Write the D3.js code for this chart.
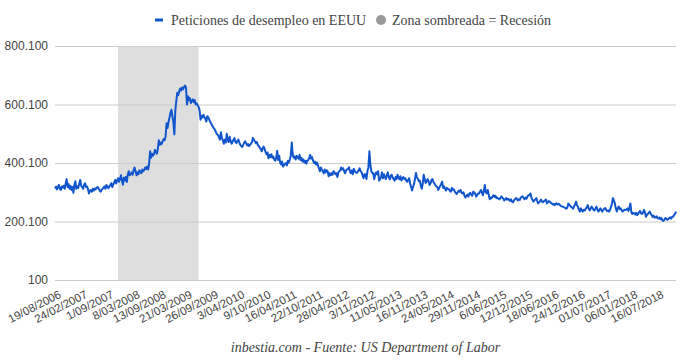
<!DOCTYPE html>
<html>
<head>
<meta charset="utf-8">
<script src="https://cdn.jsdelivr.net/npm/d3@7"></script>
<style>
body { margin: 0; background: #ffffff; }
</style>
</head>
<body>
<div id="plot"></div>
<script>
// peticiones semanales (miles), primera semana 19/08/2006
var claims2006 = [313, 319, 310, 318, 325, 312, 308, 320, 316, 322, 312, 330, 345, 318, 328, 312, 322, 308, 318, 298];
var claims2007 = [326, 338, 312, 320, 315, 330, 342, 322, 318, 312, 326, 331, 318, 320, 310, 296, 305,
    308, 302, 312, 306, 313, 310, 316, 318, 312, 306, 302, 308, 312, 316, 320, 312, 325,
    318, 314, 320, 324, 331, 318, 326, 334, 342, 330, 340, 348, 336, 345, 358, 340, 326, 350];
var claims2008 = [340, 352, 335, 360, 372, 358, 362, 368, 360, 375, 385, 372, 358, 368, 362, 375, 370,
    365, 378, 372, 376, 385, 380, 388, 378, 398, 440, 418, 432, 425, 430, 445, 438, 432, 448,
    478, 462, 470, 465, 475, 482, 478, 492, 536, 520, 540, 555, 572, 582, 560, 540, 498];
var claims2009 = [580, 612, 640, 632, 645, 655, 648, 658, 652, 660, 665, 658, 600, 628, 615, 622, 605,
    612, 618, 608, 615, 600, 604, 598, 592, 580, 548, 562, 555, 565, 558, 550, 542, 560, 556,
    548, 540, 535, 528, 522, 518, 512, 505, 498, 496, 488, 480, 505, 485, 478, 466, 480];
var claims2010 = [470, 500, 478, 472, 490, 475, 466, 472, 480, 485, 472, 468, 476, 480, 470, 462, 458,
    455, 462, 470, 474, 468, 460, 465, 458, 462, 466, 472, 486, 480, 474, 468, 472, 462, 458,
    452, 448, 440, 450, 456, 448, 438, 430, 436, 416, 428, 420, 430, 418, 422, 412, 408];
var claims2011 = [418, 442, 410, 425, 402, 395, 405, 388, 392, 398, 400, 392, 408, 402, 412, 425, 470, 430,
    418, 422, 412, 425, 420, 415, 428, 410, 418, 405, 412, 402, 408, 398, 408, 410, 418,
    428, 415, 420, 408, 400, 405, 395, 402, 392, 382, 372, 385, 378, 372, 365, 378, 368, 375];
var claims2012 = [372, 355, 365, 358, 365, 360, 372, 368, 362, 365, 352, 368, 372, 375, 385, 378, 382,
    372, 365, 375, 378, 380, 385, 372, 365, 375, 362, 380, 372, 368, 366, 370, 375, 382,
    372, 368, 358, 348, 362, 362, 345, 372, 385, 440, 395, 372, 366, 365, 345, 360, 368, 362];
var claims2013 = [372, 340, 345, 352, 368, 348, 362, 352, 345, 358, 368, 352, 344, 356, 360, 350, 345,
    340, 352, 345, 360, 350, 345, 355, 340, 348, 352, 345, 348, 340, 336, 342, 348, 330, 318,
    306, 318, 328, 345, 366, 352, 345, 338, 340, 322, 312, 330, 360, 345, 332, 338, 345];
var claims2014 = [338, 325, 330, 342, 345, 335, 330, 325, 320, 318, 308, 315, 322, 328, 336, 315, 320,
    312, 306, 315, 312, 310, 305, 302, 315, 308, 310, 302, 298, 294, 300, 305, 302, 308, 298,
    296, 300, 288, 282, 288, 292, 285, 295, 298, 292, 288, 302, 300, 295, 285, 290, 296];
var claims2015 = [296, 302, 308, 298, 290, 305, 325, 300, 296, 308, 292, 276, 282, 280, 286, 290, 284,
    288, 280, 282, 278, 276, 280, 286, 282, 278, 272, 276, 280, 275, 278, 274, 270, 276, 268,
    266, 272, 276, 280, 278, 272, 276, 274, 282, 284, 286, 280, 276, 282, 278, 286, 290];
var claims2016 = [290, 296, 282, 275, 268, 272, 276, 280, 270, 262, 266, 270, 275, 268, 266, 270, 272, 275,
    262, 266, 270, 268, 264, 262, 258, 260, 256, 260, 262, 258, 260, 258, 254, 252, 251,
    250, 248, 246, 244, 248, 262, 258, 253, 250, 248, 244, 252, 258, 268, 256, 250, 240, 234];
var claims2017 = [245, 238, 234, 240, 238, 244, 248, 256, 246, 238, 244, 251, 246, 240, 238, 244, 251,
    242, 234, 238, 245, 240, 234, 240, 244, 246, 240, 236, 238, 234, 240, 250, 262, 280,
    272, 262, 245, 234, 246, 251, 242, 245, 238, 234, 238, 240, 239, 242, 245, 236, 248, 262];
var claims2018 = [232, 226, 230, 228, 224, 230, 222, 226, 232, 236, 228, 226, 230, 240, 232, 216, 222,
    226, 230, 234, 226, 222, 216, 220, 214, 214, 218, 211, 210, 214, 208, 212, 204, 202,
    206, 212, 210, 206, 208, 212, 214, 210, 216, 216, 222, 226, 234];

var xLabels = ['19/08/2006', '24/02/2007', '1/09/2007', '8/03/2008', '13/09/2008', '21/03/2009',
    '26/09/2009', '3/04/2010', '9/10/2010', '16/04/2011', '22/10/2011', '28/04/2012', '3/11/2012',
    '11/05/2013', '16/11/2013', '24/05/2014', '29/11/2014', '6/06/2015', '12/12/2015', '18/06/2016',
    '24/12/2016', '01/07/2017', '06/01/2018', '16/07/2018'];
var labelStep = 27;
var yTicks = [100, 200100, 400100, 600100, 800100];
var firstWeek = '19/08/2006';
var recession = ['17/11/2007', '20/06/2009'];

var claims = [].concat(claims2006, claims2007, claims2008, claims2009, claims2010, claims2011,
    claims2012, claims2013, claims2014, claims2015, claims2016, claims2017, claims2018);

var width = 680;
var height = 362;
var plotLeft = 55, plotRight = 676, plotTop = 46, plotBottom = 280;

var canvas = d3.select('#plot')
    .append('svg')
    .attr('width', width)
    .attr('height', height)
    .style('font-family', '"Liberation Serif", serif');

var x = d3.scaleLinear()
    .domain([0, claims.length - 1])
    .range([plotLeft, plotRight]);

var y = d3.scaleLinear()
    .domain([100, 800100])
    .range([plotBottom, plotTop]);

var es = d3.formatLocale({ decimal: ',', thousands: '.', grouping: [3], currency: ['', '€'] });
var fmt = es.format(',d');

var parse = d3.timeParse('%d/%m/%Y');
function weekIndex(s) {
    return Math.round((parse(s) - parse(firstWeek)) / (7 * 864e5));
}

// recession band
canvas.append('rect')
    .attr('x', x(weekIndex(recession[0])))
    .attr('y', plotTop)
    .attr('width', x(weekIndex(recession[1])) - x(weekIndex(recession[0])))
    .attr('height', plotBottom - plotTop)
    .attr('fill', '#dedede');

// grid lines + y labels
var yAxis = d3.axisLeft(y)
    .tickValues(yTicks)
    .tickSize(-(plotRight - plotLeft))
    .tickPadding(7)
    .tickFormat(fmt);

var gy = canvas.append('g')
    .attr('transform', 'translate(' + plotLeft + ',0)')
    .call(yAxis);
gy.select('.domain').remove();
gy.selectAll('line').attr('stroke', '#cccccc');
gy.selectAll('text')
    .attr('fill', '#444444')
    .style('font-family', '"Liberation Sans", Arial, sans-serif')
    .style('font-size', '12px');

// x labels (slanted)
canvas.selectAll('text.xlab')
    .data(xLabels)
    .enter()
    .append('text')
    .attr('class', 'xlab')
    .attr('text-anchor', 'end')
    .attr('font-size', 11.5)
    .attr('fill', '#444444')
    .style('font-family', '"Liberation Sans", Arial, sans-serif')
    .attr('transform', function(d, i) {
        return 'translate(' + (x(i * labelStep) + 7) + ',' + 297 + ') rotate(-27)';
    })
    .text(function(d) { return d; });

// claims line
var line = d3.line()
    .x(function(d, i) { return x(i); })
    .y(function(d) { return y(d * 1000); });

canvas.append('path')
    .attr('d', line(claims))
    .attr('fill', 'none')
    .attr('stroke', '#1155cc')
    .attr('stroke-width', 2)
    .attr('stroke-linejoin', 'round');

// legend
canvas.append('line')
    .attr('x1', 155).attr('x2', 163)
    .attr('y1', 20).attr('y2', 20)
    .attr('stroke', '#1155cc')
    .attr('stroke-width', 3);
canvas.append('text')
    .attr('x', 171).attr('y', 25)
    .attr('font-size', 14)
    .attr('fill', '#444444')
    .text('Peticiones de desempleo en EEUU');
canvas.append('circle')
    .attr('cx', 381).attr('cy', 20).attr('r', 5)
    .attr('fill', '#999999');
canvas.append('text')
    .attr('x', 392).attr('y', 25)
    .attr('font-size', 14)
    .attr('fill', '#444444')
    .text('Zona sombreada = Recesión');

// source
canvas.append('text')
    .attr('x', (plotLeft + plotRight) / 2)
    .attr('y', 352)
    .attr('text-anchor', 'middle')
    .attr('font-size', 14)
    .attr('font-style', 'italic')
    .attr('fill', '#444444')
    .text('inbestia.com - Fuente: US Department of Labor');
</script>
</body>
</html>
